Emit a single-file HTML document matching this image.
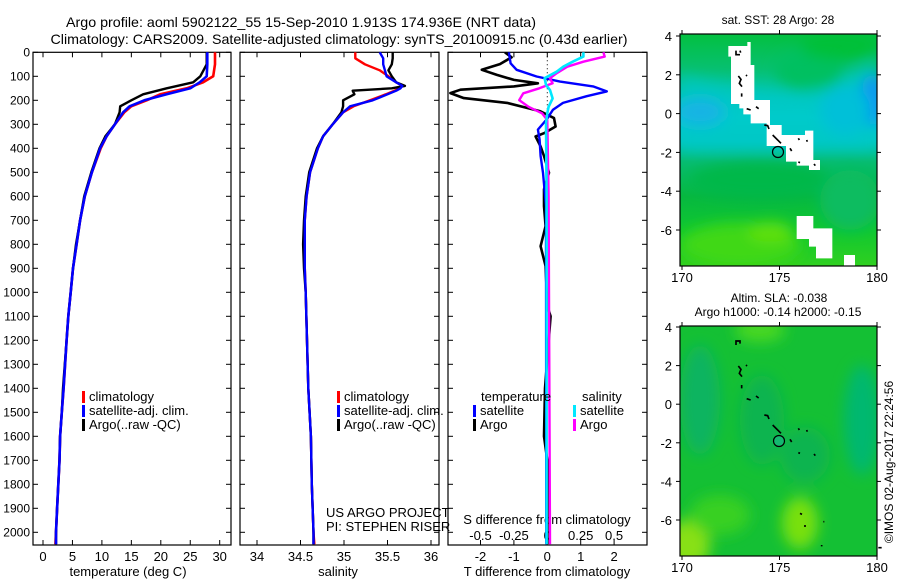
<!DOCTYPE html>
<html><head><meta charset="utf-8"><style>
html,body{margin:0;padding:0;background:#fff;}
svg{display:block;font-family:"Liberation Sans",Arial,sans-serif;}
</style></head><body>
<svg id="fig" width="900" height="580" viewBox="0 0 900 580" xmlns="http://www.w3.org/2000/svg">
<defs>
<filter id="blur8" x="-50%" y="-50%" width="200%" height="200%"><feGaussianBlur stdDeviation="7"/></filter>
<linearGradient id="sstGrad" x1="0" y1="0" x2="0" y2="1">
<stop offset="0" stop-color="#04c040"/>
<stop offset="0.15" stop-color="#06c070"/>
<stop offset="0.28" stop-color="#00c8b8"/>
<stop offset="0.36" stop-color="#00d0d0"/>
<stop offset="0.46" stop-color="#00c8c0"/>
<stop offset="0.55" stop-color="#06bc70"/>
<stop offset="0.7" stop-color="#06b840"/>
<stop offset="0.85" stop-color="#10c830"/>
<stop offset="1" stop-color="#30d020"/>
</linearGradient>
<clipPath id="clipTop"><rect x="680" y="34" width="197" height="232"/></clipPath>
<clipPath id="clipBot"><rect x="680" y="326" width="197" height="230"/></clipPath>
<clipPath id="clipP1"><rect x="33" y="52" width="198" height="493"/></clipPath>
<clipPath id="clipP2"><rect x="240" y="52" width="199" height="493"/></clipPath>
<clipPath id="clipP3"><rect x="448" y="52" width="199" height="493"/></clipPath>
</defs>
<text x="301" y="27" font-size="14" text-anchor="middle" textLength="470" lengthAdjust="spacingAndGlyphs">Argo profile: aoml 5902122_55 15-Sep-2010 1.913S 174.936E (NRT data)</text>
<text x="339" y="44" font-size="14" text-anchor="middle" textLength="577" lengthAdjust="spacingAndGlyphs">Climatology: CARS2009. Satellite-adjusted climatology: synTS_20100915.nc (0.43d earlier)</text>

<!-- top map -->
<g>
<g clip-path="url(#clipTop)">
<rect x="680" y="34" width="197" height="232" fill="url(#sstGrad)"/>
<g filter="url(#blur8)">
<polygon points="680,75 730,85 800,95 877,60 877,150 820,150 760,150 680,150" fill="#00c8c8" opacity="0.7"/>
<ellipse cx="700" cy="112" rx="25" ry="14" fill="#18b4e4"/>
<ellipse cx="873" cy="100" rx="14" ry="26" fill="#0898f0"/>
<ellipse cx="845" cy="110" rx="25" ry="25" fill="#00c0d8"/>
<ellipse cx="810" cy="70" rx="35" ry="20" fill="#04c060"/>
<ellipse cx="840" cy="45" rx="40" ry="15" fill="#02c038"/>
<ellipse cx="760" cy="180" rx="70" ry="18" fill="#04b848"/>
<ellipse cx="740" cy="245" rx="60" ry="22" fill="#40d818"/>
<ellipse cx="770" cy="232" rx="22" ry="10" fill="#60e010"/>
<ellipse cx="850" cy="200" rx="30" ry="30" fill="#08bc60"/>
</g>
</g>
<g transform="translate(660,10) scale(0.33333)" fill="#fff">
<polygon points="205,108 262,108 262,96 272,96 272,165 283,165 283,270 330,270 330,345 365,345 365,375 435,375 435,362 460,362 460,450 480,450 480,480 447,480 447,467 410,467 410,455 378,455 378,408 320,408 320,340 272,340 272,313 250,313 250,295 238,295 238,282 213,282 213,140 205,140"/>
<polygon points="410,618 460,618 460,655 517,655 517,745 468,745 468,710 447,710 447,687 410,687"/>
<polygon points="552,735 585,735 585,768 552,768"/>
<g stroke="#000" stroke-width="5" fill="none">
<path d="M228,122 l0,12 l12,0 M240,122 l2,6"/><path d="M235,198 l8,10 l-5,12 l8,10 M258,195 l3,3 M245,250 l0,10"/><path d="M260,296 l12,4 M288,290 l8,6"/><path d="M313,345 l10,2 l4,10 M338,375 l25,25"/><path d="M390,415 l5,8 M415,385 l3,5 M440,390 l2,5 M415,456 l5,2 M462,462 l4,5"/>
</g>
</g>
<circle cx="778" cy="152" r="5.5" fill="none" stroke="#000" stroke-width="1.2"/>
<rect x="680" y="34" width="197" height="232" fill="none" stroke="#000" stroke-width="1.2"/>
</g>
<text x="778" y="24" font-size="12" text-anchor="middle">sat. SST: 28 Argo: 28</text>

<!-- bottom map -->
<g>
<g clip-path="url(#clipBot)">
<rect x="680" y="326" width="197" height="230" fill="#14c034"/>
<g filter="url(#blur8)">
<ellipse cx="700" cy="400" rx="20" ry="55" fill="#0cb460"/>
<ellipse cx="862" cy="420" rx="18" ry="55" fill="#04b870"/>
<ellipse cx="762" cy="420" rx="22" ry="45" fill="#0cb450"/>
<ellipse cx="805" cy="455" rx="25" ry="28" fill="#0cb450"/>
<ellipse cx="800" cy="523" rx="18" ry="26" fill="#78e010"/>
<ellipse cx="688" cy="545" rx="22" ry="25" fill="#88e018"/>
<ellipse cx="760" cy="330" rx="25" ry="12" fill="#48d820"/>
<ellipse cx="720" cy="515" rx="30" ry="20" fill="#38d020"/>
</g>
</g>
<g transform="translate(660,290) scale(0.33333)" stroke="#000" stroke-width="5" fill="none">
<path d="M228,165 l0,-12 l12,0 l0,8"/><path d="M235,228 l8,10 l-5,12 l8,10 M258,225 l3,3 M245,285 l0,10"/><path d="M260,326 l12,4 M288,318 l8,6"/><path d="M313,375 l10,2 l4,10 M338,405 l25,25"/><path d="M390,448 l5,8 M415,415 l3,5 M440,420 l2,5 M415,488 l5,2 M462,492 l4,5 M420,670 l6,3 M435,705 l0,6 M490,695 l3,0 M485,765 l0,4 M655,773 l10,0"/>
</g>
<circle cx="779" cy="441" r="5.5" fill="#14b870" stroke="#000" stroke-width="1.2"/>
<rect x="680" y="326" width="197" height="230" fill="none" stroke="#000" stroke-width="1.2"/>
</g>
<text x="779" y="302" font-size="12" text-anchor="middle">Altim. SLA: -0.038</text>
<text x="778" y="316" font-size="12" text-anchor="middle">Argo h1000: -0.14 h2000: -0.15</text>
<text transform="translate(893,462) rotate(-90)" font-size="12" text-anchor="middle">©IMOS 02-Aug-2017 22:24:56</text>

<g id="plots"></g>
</svg>
<script>
// ---------- data ----------
const tDepth   = [0,50,100,125,150,175,200,225,250,300,350,400,500,600,700,800,900,1000,1100,1200,1400,1500,1600,1700,1800,1900,2000,2050];
const tClim    = [29.2,29.2,28.9,27.2,24.4,19.9,17.6,15.0,13.8,12.2,10.8,9.8,8.3,7.1,6.3,5.7,5.1,4.7,4.3,4.0,3.5,3.2,2.9,2.8,2.6,2.4,2.2,2.1];
const tSat     = [27.9,27.9,27.8,26.6,25.0,21.0,17.2,14.7,13.6,12.2,10.8,9.7,8.3,7.1,6.3,5.7,5.1,4.7,4.3,4.0,3.5,3.2,2.9,2.8,2.6,2.4,2.2,2.2];
const tArgo    = [27.8,27.8,26.7,25.5,21.0,17.0,15.0,13.1,13.0,12.2,10.6,9.6,8.2,7.0,6.3,5.6,5.1,4.7,4.3,4.0,3.4,3.2,2.9,2.8,2.6,2.4,2.2,2.2];
const sDepth   = [0,25,50,75,100,125,140,150,160,175,200,225,250,300,350,400,500,600,700,800,900,1000,1400,1600,1800,2000,2050];
const sClim    = [35.13,35.13,35.24,35.41,35.51,35.60,35.67,35.64,35.58,35.48,35.30,35.11,34.99,34.87,34.76,34.70,34.61,34.57,34.55,34.55,34.55,34.56,34.59,34.62,34.63,34.65,34.66];
const sSat     = [35.41,35.45,35.45,35.47,35.49,35.60,35.67,35.65,35.60,35.50,35.33,35.07,34.99,34.87,34.76,34.70,34.61,34.57,34.55,34.55,34.55,34.56,34.59,34.62,34.63,34.65,34.65];
const sArgo    = [35.56,35.56,35.55,35.51,35.55,35.60,35.70,35.55,35.10,35.12,34.99,34.99,34.97,34.87,34.76,34.69,34.60,34.56,34.54,34.53,34.54,34.56,34.59,34.62,34.63,34.65,34.65];
const dtSatDepth = [0,46,73,101,122,142,163,183,211,239,280,322,363,432,502,641,2050];
const dtSat      = [-1.15,-1.1,-0.92,-0.32,0.38,1.37,1.78,1.18,0.47,0.17,-0.02,-0.28,-0.23,-0.2,-0.13,-0.04,-0.03];
const dtArgoDepth = [0,21,49,73,94,115,129,142,156,170,191,211,246,274,309,337,351,392,432,502,571,641,724,808,891,1058,1100,1400,1600,1700,2050];
const dtArgo      = [-1.27,-1.07,-1.42,-1.96,-1.51,-1.0,-0.28,-1.0,-2.6,-2.9,-2.5,-1.2,-0.21,0.2,0.25,-0.1,-0.35,-0.2,-0.1,0.05,-0.1,-0.1,-0.05,-0.2,-0.05,0.0,0.1,-0.07,-0.1,0.0,0.0];
const dsDepth   = [0,18,39,60,81,108,136,157,192,227,254,296,600,2050];
const dsSat     = [0.27,0.27,0.19,0.12,0.07,-0.02,-0.01,0.02,0.04,0.01,0.0,-0.01,-0.005,-0.005];
const dsArgoDepth = [0,18,39,60,87,108,129,150,171,199,227,254,282,600,2050];
const dsArgo    = [0.42,0.43,0.27,0.15,0.07,0.02,0.04,-0.06,-0.18,-0.21,-0.14,-0.04,0.0,0.01,0.02];
const depthTicks = [0,100,200,300,400,500,600,700,800,900,1000,1100,1200,1300,1400,1500,1600,1700,1800,1900,2000];
const tTicks = [0,5,10,15,20,25,30];
const sTicks = [34,34.5,35,35.5,36];
const dTTicks = [-2,-1,0,1,2];
const dSTicks = [-0.5,-0.25,0,0.25,0.5];
const dSTickLabels = ['-0.5','-0.25','0','0.25','0.5'];

// ---------- axes ----------
const NS='http://www.w3.org/2000/svg';
const Y0=52.3, YB=545;
const yD = d => Y0 + d*0.2400;
const xT = t => 43 + t*5.89;
const xS = s => 257 + (s-34)*87;
const xDT = t => 547.3 + t*33.4;
const xDS = s => 547.3 + s*133.6;
const plots=document.getElementById('plots');
function el(tag,attrs,parent){const e=document.createElementNS(NS,tag);for(const k in attrs)e.setAttribute(k,attrs[k]);(parent||plots).appendChild(e);return e;}
function line(xs,ys,fx,color,w,clip,name){
  let d='';
  for(let i=0;i<xs.length;i++){d+=(i?'L':'M')+fx(xs[i]).toFixed(1)+','+yD(ys[i]).toFixed(1);}
  const p=el('path',{d:d,fill:'none',stroke:color,'stroke-width':w,'stroke-linejoin':'round','clip-path':'url(#'+clip+')'});
  
  
}
function txt(x,y,s,anchor,name,size){
  const t=el('text',{x:x,y:y,'font-size':size||12,'text-anchor':anchor||'start'});
  t.textContent=s;
  
  
  return t;
}
const panels=[{l:33,r:231,clip:'clipP1'},{l:240,r:439,clip:'clipP2'},{l:448,r:647,clip:'clipP3'}];
panels.forEach((p,i)=>{
  const b=el('rect',{x:p.l,y:Y0,width:p.r-p.l,height:YB-Y0,fill:'none',stroke:'#000','stroke-width':1.2});
  
  
  depthTicks.forEach(d=>{
    el('line',{x1:p.l,x2:p.l+5,y1:yD(d),y2:yD(d),stroke:'#000'});
    el('line',{x1:p.r-5,x2:p.r,y1:yD(d),y2:yD(d),stroke:'#000'});
  });
});
depthTicks.forEach(d=>{ txt(30,yD(d)+4,String(d),'end','depth-tick-label'); });
function xTicks(ticks,fx,labels,ly){
  ticks.forEach((v,i)=>{
    el('line',{x1:fx(v),x2:fx(v),y1:Y0,y2:Y0+5,stroke:'#000'});
    el('line',{x1:fx(v),x2:fx(v),y1:YB-5,y2:YB,stroke:'#000'});
    txt(fx(v),ly,labels?labels[i]:String(v),'middle','x-tick-label',13);
  });
}
xTicks(tTicks,xT,null,561);
xTicks(sTicks,xS,null,561);
xTicks(dTTicks,xDT,null,561);
dSTicks.forEach((v,i)=>{ txt(xDS(v),540,dSTickLabels[i],'middle','s-diff-tick-label',13); });
txt(128,576,'temperature (deg C)','middle','x-axis-title-temperature',13);
txt(338,576,'salinity','middle','x-axis-title-salinity',13);
txt(547,576,'T difference from climatology','middle','x-axis-title-t-diff',13);
txt(547,524,'S difference from climatology','middle','x-axis-title-s-diff',13);

// zero line panel 3
const zl=el('line',{x1:xDT(0),x2:xDT(0),y1:Y0,y2:yD(300),stroke:'#000','stroke-dasharray':'1,3'});



// series
line(tClim,tDepth,xT,'#ff0000',2.6,'clipP1','temp-climatology');
line(tArgo,tDepth,xT,'#000000',2.4,'clipP1','temp-argo');
line(tSat,tDepth,xT,'#0000ff',2.6,'clipP1','temp-satellite');
line(sClim,sDepth,xS,'#ff0000',2.4,'clipP2','sal-climatology');
line(sArgo,sDepth,xS,'#000000',2.4,'clipP2','sal-argo');
line(sSat,sDepth,xS,'#0000ff',2.4,'clipP2','sal-satellite');
line(dtArgo,dtArgoDepth,xDT,'#000000',2.6,'clipP3','tdiff-argo');
line(dtSat,dtSatDepth,xDT,'#0000ff',2.4,'clipP3','tdiff-satellite');
line(dsArgo,dsArgoDepth,xDS,'#ff00ff',2.4,'clipP3','sdiff-argo');
line(dsSat,dsDepth,xDS,'#00e8ff',2.6,'clipP3','sdiff-satellite');

// legends
function legend(x,y,color,label,name){
  const r=el('rect',{x:x,y:y-10,width:3,height:12,fill:color});
  
  
  txt(x+7,y,label,'start',name,13);
}
legend(82,401,'#ff0000','climatology','legend-climatology');
legend(82,415,'#0000ff','satellite-adj. clim.','legend-satellite-adj');
legend(82,429,'#000000','Argo(..raw -QC)','legend-argo');
legend(337,401,'#ff0000','climatology','legend2-climatology');
legend(337,415,'#0000ff','satellite-adj. clim.','legend2-satellite-adj');
legend(337,429,'#000000','Argo(..raw -QC)','legend2-argo');
txt(481,401,'temperature','start','legend-temperature-header',13);
legend(473,415,'#0000ff','satellite','legend-t-satellite');
legend(473,429,'#000000','Argo','legend-t-argo');
txt(582,401,'salinity','start','legend-salinity-header',13);
legend(573,415,'#00e8ff','satellite','legend-s-satellite');
legend(573,429,'#ff00ff','Argo','legend-s-argo');
txt(326,517,'US ARGO PROJECT','start','project-label',13);
txt(326,531,'PI: STEPHEN RISER','start','pi-label',13);

// map axes
function mapAxes(top,bot,lat4y,latStep,name){
  const xL=lon=>682+(lon-170)*19.5;
  [170,175,180].forEach(l=>{
    el('line',{x1:xL(l),x2:xL(l),y1:top,y2:top-4,stroke:'#000'});
    el('line',{x1:xL(l),x2:xL(l),y1:bot,y2:bot+4,stroke:'#000'});
    txt(xL(l),bot+16,String(l),'middle',name+'-lon-label',13);
  });
  [4,2,0,-2,-4,-6].forEach(la=>{
    const y=lat4y+(4-la)*latStep;
    el('line',{x1:680,x2:676,y1:y,y2:y,stroke:'#000'});
    el('line',{x1:877,x2:881,y1:y,y2:y,stroke:'#000'});
    txt(672,y+5,String(la),'end',name+'-lat-label',13);
  });
}
mapAxes(34,266,36,19.4,'sst-map');
mapAxes(326,556,327,19.3,'sla-map');
</script>
</body></html>
